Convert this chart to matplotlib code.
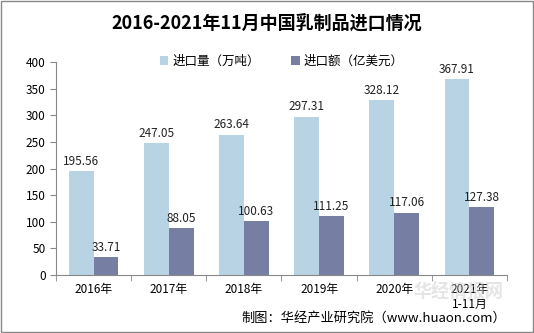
import matplotlib.pyplot as plt
import numpy as np

plt.rcParams['font.family'] = ['Noto Sans CJK SC', 'DejaVu Sans']

years = ["2016年", "2017年", "2018年", "2019年", "2020年", "2021年\n1-11月"]
volume = [195.56, 247.05, 263.64, 297.31, 328.12, 367.91]
value = [33.71, 88.05, 100.63, 111.25, 117.06, 127.38]

fig = plt.figure(figsize=(5.34, 3.33), dpi=100)
ax = fig.add_axes([56 / 534, 1 - 275 / 333, 451 / 534, 213 / 333])

x = np.arange(len(years))
w = 0.33
ax.bar(x - w / 2, volume, w, color='#B7D3E4', label='进口量（万吨）')
ax.bar(x + w / 2, value, w, color='#767FA3', label='进口额（亿美元）')

for xi, v in zip(x, volume):
    ax.text(xi - w / 2, v + 6, f"{v:.2f}", ha='center', va='bottom', fontsize=8.5, color='#222222')
for xi, v in zip(x, value):
    ax.text(xi + w / 2, v + 6, f"{v:.2f}", ha='center', va='bottom', fontsize=8.5, color='#222222')

ax.set_xlim(-0.5, len(years) - 0.5)
ax.set_ylim(0, 400)
ax.set_yticks(range(0, 401, 50))
ax.set_xticks(x)
ax.set_xticklabels(years, fontsize=8.5)
ax.set_xticks(np.arange(-0.5, len(years), 1), minor=True)
ax.tick_params(axis='x', which='major', length=0, pad=6)
ax.tick_params(axis='x', which='minor', length=4, color='#888888')
ax.tick_params(axis='y', labelsize=8.5, length=4, color='#888888')
for s in ['top', 'right']:
    ax.spines[s].set_visible(False)
for s in ['left', 'bottom']:
    ax.spines[s].set_color('#888888')

fig.text(0.5, 0.93, "2016-2021年11月中国乳制品进口情况", ha='center', va='center',
         fontsize=13, fontweight='bold')
ax.legend(loc='upper center', bbox_to_anchor=(0.5, 1.085), ncol=2, frameon=False,
          fontsize=9, handlelength=0.7, handleheight=0.7, columnspacing=2.5, handletextpad=0.3)

fig.text(0.775, 0.105, "华经情报网", ha='left', fontsize=13, color='#cccccc', alpha=0.5,
         fontweight='bold', zorder=0)
fig.text(0.947, 0.025, "制图：华经产业研究院（www.huaon.com）", ha='right', va='bottom', fontsize=9.5)

fig.patches.append(plt.Rectangle((0.002, 0.003), 0.996, 0.994, transform=fig.transFigure,
                                 fill=False, edgecolor='#888888', linewidth=1))

fig.savefig("out.png", dpi=100)
